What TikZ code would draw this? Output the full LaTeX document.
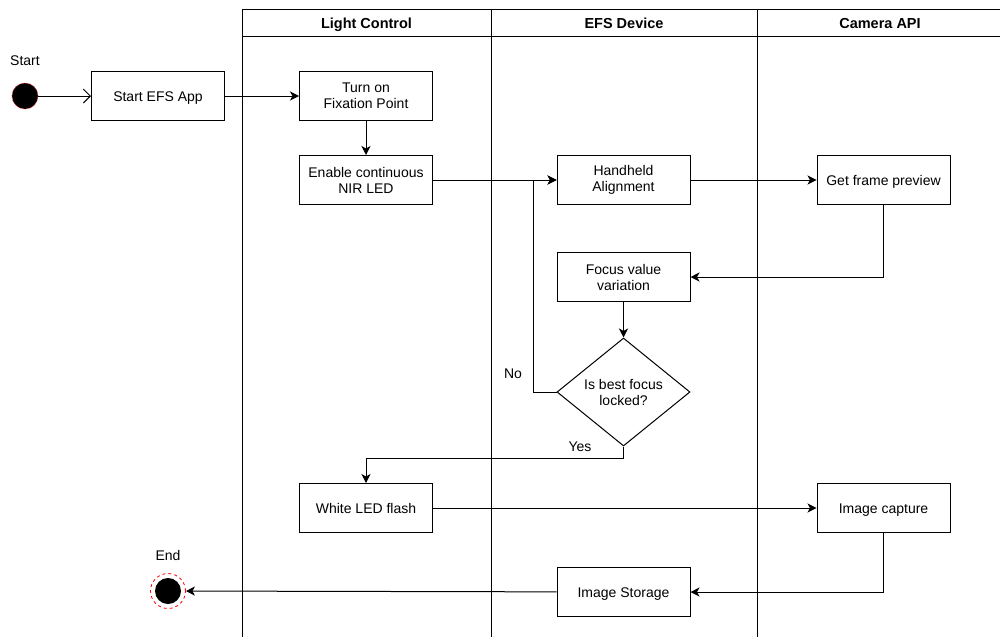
\documentclass[tikz,border=0pt]{standalone}
\usepackage{fontspec}
\setmainfont{Liberation Sans}
\usetikzlibrary{arrows.meta,shapes.geometric}
\begin{document}
\begin{tikzpicture}[x=1pt,y=-1pt,
  every node/.style={font=\fontsize{14}{16}\selectfont},
  box/.style={draw,line width=1pt,fill=white,minimum width=133pt,minimum height=49pt,inner sep=1pt,align=center},
  one/.style={text height=10pt,text depth=0pt},
  lane/.style={line width=1pt},
  hdr/.style={font=\bfseries\fontsize{14.5}{16}\selectfont,anchor=base,inner sep=0pt},
  flow/.style={line width=1pt,-{Stealth[length=9pt,width=9pt,inset=2.5pt]}},
  openflow/.style={line width=1pt,-{Straight Barb[length=7pt,width=14pt]}},
  lbl/.style={inner sep=0pt}]
\useasboundingbox (0,0) rectangle (1000,637);
% swimlanes
\draw[lane] (1000,9) -- (242,9) -- (242,637);
\draw[lane] (242,36) -- (1000,36);
\draw[lane] (491,9) -- (491,637);
\draw[lane] (757,9) -- (757,637);
\node[hdr] (h1) at (366.5,28) {Light Control};
\node[hdr] (h2) at (624,28) {EFS Device};
\node[hdr] (h3) at (880,28) {Camera API};
% start / end
\node[circle,fill=black,draw=red,densely dotted,line width=0.6pt,minimum size=26pt,inner sep=0pt] (start) at (25,96) {};
\node[lbl] (startl) at (25,61) {Start};
\node[circle,fill=black,minimum size=26pt,inner sep=0pt] (end) at (168,591) {};
\node[circle,draw=red,dashed,line width=0.8pt,minimum size=35pt,inner sep=0pt] (endring) at (168,591) {};
\node[lbl] (endl) at (168,555) {End};
% boxes
\node[box,one] (app) at (158,96) {Start EFS App};
\node[box] (fix) at (366,96) {Turn on\\Fixation Point};
\node[box] (nir) at (366,180) {Enable continuous\\NIR LED};
\node[box] (hand) at (623.5,180) {Handheld\\Alignment};
\node[box,one] (frame) at (883.5,180) {Get frame preview};
\node[box] (focus) at (623.5,277) {Focus value\\variation};
\node[draw,line width=1pt,shape=diamond,fill=white,inner sep=0pt,minimum width=133pt,minimum height=108pt,align=center] (dec) at (623.5,392) {Is best focus\\locked?};
\node[box,one] (white) at (366,508) {White LED flash};
\node[box,one] (cap) at (883.5,508) {Image capture};
\node[box,one] (store) at (623.5,592) {Image Storage};
\node[lbl] (nol) at (513,374) {No};
\node[lbl] (yesl) at (580,447) {Yes};
\coordinate (nocorner) at (533,392);
\coordinate (yescorner) at (623.5,458);
% connectors
\draw[openflow] (start) -- (app);
\draw[flow] (app) -- (fix);
\draw[flow] (fix) -- (nir);
\draw[flow] (nir) -- (hand);
\draw[flow] (hand) -- (frame);
\draw[flow] (frame.south) |- (focus.east);
\draw[flow] (focus) -- (dec);
\draw[flow] (dec.west) -- (nocorner) |- (hand.west);
\draw[flow] (dec.south) -- (yescorner) -| (white.north);
\draw[flow] (white) -- (cap);
\draw[flow] (cap.south) |- (store.east);
\draw[flow] (store) -- (endring);
\end{tikzpicture}
\end{document}
